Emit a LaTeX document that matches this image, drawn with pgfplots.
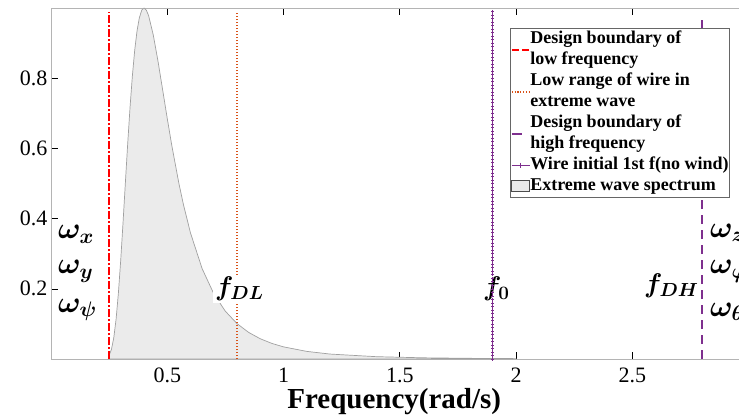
\RequirePackage{fix-cm}
\documentclass[border=0pt]{standalone}
\usepackage{amsmath,bm}
\usepackage{fontspec}
\setmainfont{Liberation Serif}
\usepackage{pgfplots}
\usepackage{pgfplotstable}
\pgfplotsset{compat=1.18}
\definecolor{mred}{RGB}{255,0,0}
\definecolor{morange}{RGB}{217,83,25}
\definecolor{mpurple}{RGB}{126,47,142}
\definecolor{sfill}{RGB}{235,235,235}
\definecolor{sedge}{RGB}{160,160,160}
\definecolor{axgray}{RGB}{180,180,180}
\newcommand{\ls}{\rule[-6pt]{0pt}{21pt}}

\pgfplotstableread{
x y
0.25 0.0000
0.25 0.0101
0.26 0.0274
0.27 0.0605
0.28 0.1139
0.29 0.1889
0.30 0.2830
0.31 0.3905
0.32 0.5036
0.33 0.6148
0.34 0.7175
0.35 0.8068
0.36 0.8795
0.37 0.9346
0.38 0.9722
0.39 0.9934
0.40 1.0000
0.41 0.9941
0.42 0.9779
0.44 0.9228
0.46 0.8492
0.48 0.7677
0.50 0.6854
0.52 0.6068
0.55 0.5006
0.57 0.4387
0.60 0.3591
0.65 0.2575
0.70 0.1861
0.75 0.1361
0.80 0.1009
0.85 0.0758
0.90 0.0577
0.95 0.0444
1.00 0.0346
1.10 0.0217
1.20 0.0141
1.40 0.0066
1.60 0.0034
1.80 0.0019
2.00 0.0011
}\spectrum

\begin{document}
\begin{tikzpicture}
\begin{axis}[name=ax, at={(0,0)}, anchor=south west,
  scale only axis, width=697.5pt, height=351pt,
  xmin=0, xmax=3, ymin=0, ymax=1,
  xtick={0.5,1,1.5,2,2.5}, ytick={0.2,0.4,0.6,0.8},
  tick align=inside, major tick length=7pt,
  tick style={black, line width=0.6pt},
  axis line style={axgray, line width=0.8pt},
  /pgf/number format/assume math mode=true,
  ticklabel style={font=\fontsize{22}{26}\selectfont},
  xticklabel style={yshift=-5pt},
  xlabel={Frequency(rad/s)},
  xlabel style={font=\bfseries\fontsize{29}{32}\selectfont, at={(axis description cs:0.492,0)}, anchor=base, yshift=-49pt},
  clip=false,
  legend cell align=left,
  legend style={at={(axis description cs:0.658,0.943)}, anchor=north west,
    draw=black!60, line width=0.8pt, fill=white,
    font=\bfseries\fontsize{18}{21}\selectfont,
    inner xsep=1pt, inner ysep=0.5pt, row sep=0pt,
    nodes={inner sep=0pt, text depth=},
    /tikz/every even column/.append style={column sep=3pt}},
]
% spectrum
\addplot[forget plot, fill=sfill, draw=sedge, line width=0.7pt] table[x=x,y=y]{\spectrum} \closedcycle;
% vertical lines
\addplot[forget plot, mred, line width=2.2pt, dash pattern=on 8pt off 2pt on 2pt off 2pt] coordinates {(0.25,0) (0.25,0.99)};
\addplot[forget plot, morange, line width=1.5pt, dash pattern=on 1.3pt off 1.7pt] coordinates {(0.8,0) (0.8,0.99)};
\addplot[forget plot, mpurple, line width=0.8pt, mark=+, mark size=1.6pt, mark options={solid, line width=0.6pt}] coordinates {
(1.9,0)(1.9,0.01)(1.9,0.02)(1.9,0.03)(1.9,0.04)(1.9,0.05)(1.9,0.06)(1.9,0.07)(1.9,0.08)(1.9,0.09)
(1.9,0.10)(1.9,0.11)(1.9,0.12)(1.9,0.13)(1.9,0.14)(1.9,0.15)(1.9,0.16)(1.9,0.17)(1.9,0.18)(1.9,0.19)
(1.9,0.20)(1.9,0.21)(1.9,0.22)(1.9,0.23)(1.9,0.24)(1.9,0.25)(1.9,0.26)(1.9,0.27)(1.9,0.28)(1.9,0.29)
(1.9,0.30)(1.9,0.31)(1.9,0.32)(1.9,0.33)(1.9,0.34)(1.9,0.35)(1.9,0.36)(1.9,0.37)(1.9,0.38)(1.9,0.39)
(1.9,0.40)(1.9,0.41)(1.9,0.42)(1.9,0.43)(1.9,0.44)(1.9,0.45)(1.9,0.46)(1.9,0.47)(1.9,0.48)(1.9,0.49)
(1.9,0.50)(1.9,0.51)(1.9,0.52)(1.9,0.53)(1.9,0.54)(1.9,0.55)(1.9,0.56)(1.9,0.57)(1.9,0.58)(1.9,0.59)
(1.9,0.60)(1.9,0.61)(1.9,0.62)(1.9,0.63)(1.9,0.64)(1.9,0.65)(1.9,0.66)(1.9,0.67)(1.9,0.68)(1.9,0.69)
(1.9,0.70)(1.9,0.71)(1.9,0.72)(1.9,0.73)(1.9,0.74)(1.9,0.75)(1.9,0.76)(1.9,0.77)(1.9,0.78)(1.9,0.79)
(1.9,0.80)(1.9,0.81)(1.9,0.82)(1.9,0.83)(1.9,0.84)(1.9,0.85)(1.9,0.86)(1.9,0.87)(1.9,0.88)(1.9,0.89)
(1.9,0.90)(1.9,0.91)(1.9,0.92)(1.9,0.93)(1.9,0.94)(1.9,0.95)(1.9,0.96)(1.9,0.97)(1.9,0.98)(1.9,0.99)
};
\addplot[forget plot, mpurple, line width=2.5pt, dash pattern=on 9pt off 6pt] coordinates {(2.8,0) (2.8,0.97)};

% legend (one row per text line)
\addlegendimage{legend image code/.code={\path[draw=none,fill=none] (0pt,-1pt) rectangle (18pt,1pt); \draw[overlay, mred, line width=2.2pt, dash pattern=on 7pt off 3pt] (0pt,-10.5pt) -- (18pt,-10.5pt);}}
\addlegendentry{Design boundary of\ls}
\addlegendimage{empty legend}
\addlegendentry{low frequency\ls}
\addlegendimage{legend image code/.code={\path[draw=none,fill=none] (0pt,-1pt) rectangle (18pt,1pt); \draw[overlay, morange, line width=1.3pt, dash pattern=on 1.2pt off 1.6pt] (0pt,-10.5pt) -- (18pt,-10.5pt);}}
\addlegendentry{Low range of wire in\ls}
\addlegendimage{empty legend}
\addlegendentry{extreme wave\ls}
\addlegendimage{legend image code/.code={\path[draw=none,fill=none] (0pt,-1pt) rectangle (18pt,1pt); \draw[overlay, mpurple, line width=2.5pt] (0pt,-10.5pt) -- (10pt,-10.5pt);}}
\addlegendentry{Design boundary of\ls}
\addlegendimage{empty legend}
\addlegendentry{high frequency\ls}
\addlegendimage{legend image code/.code={\draw[mpurple, line width=0.8pt] (0pt,0pt) -- (18pt,0pt); \draw[mpurple, line width=0.8pt] plot[mark=+, mark size=2.5pt] coordinates {(9pt,0pt)};}}
\addlegendentry{Wire initial 1st f(no wind)\ls}
\addlegendimage{legend image code/.code={\draw[fill=sfill, draw=black!70, line width=0.9pt] (0pt,-5.5pt) rectangle (18pt,5.5pt);}}
\addlegendentry{Extreme wave spectrum\ls}

% labels
\node[fill=white, inner sep=2pt, font=\fontsize{27}{30}\selectfont] at (axis cs:0.81,0.2) {$\boldsymbol{f_{DL}}$};
\node[fill=white, inner sep=2pt, font=\fontsize{27}{30}\selectfont] at (axis cs:1.915,0.2) {$\boldsymbol{f_{0}}$};
\node[anchor=east, inner sep=1pt, font=\fontsize{27}{30}\selectfont] at (axis cs:2.79,0.21) {$\boldsymbol{f_{DH}}$};
\node[anchor=west, inner sep=0pt, font=\fontsize{30}{34}\selectfont] at (axis cs:0.03,0.355) {$\boldsymbol{\omega_{x}}$};
\node[anchor=west, inner sep=0pt, font=\fontsize{30}{34}\selectfont] at (axis cs:0.03,0.25) {$\boldsymbol{\omega_{y}}$};
\node[anchor=west, inner sep=0pt, font=\fontsize{30}{34}\selectfont] at (axis cs:0.03,0.14) {$\boldsymbol{\omega_{\psi}}$};
\node[anchor=west, inner sep=0pt, font=\fontsize{30}{34}\selectfont] at (axis cs:2.834,0.36) {$\boldsymbol{\omega_{z}}$};
\node[anchor=west, inner sep=0pt, font=\fontsize{30}{34}\selectfont] at (axis cs:2.834,0.25) {$\boldsymbol{\omega_{\varphi}}$};
\node[anchor=west, inner sep=0pt, font=\fontsize{30}{34}\selectfont] at (axis cs:2.834,0.135) {$\boldsymbol{\omega_{\theta}}$};
\end{axis}
\pgfresetboundingbox
\useasboundingbox ([shift={(-51pt,-59pt)}]ax.south west) rectangle ([shift={(688pt,359pt)}]ax.south west);
\end{tikzpicture}
\end{document}
